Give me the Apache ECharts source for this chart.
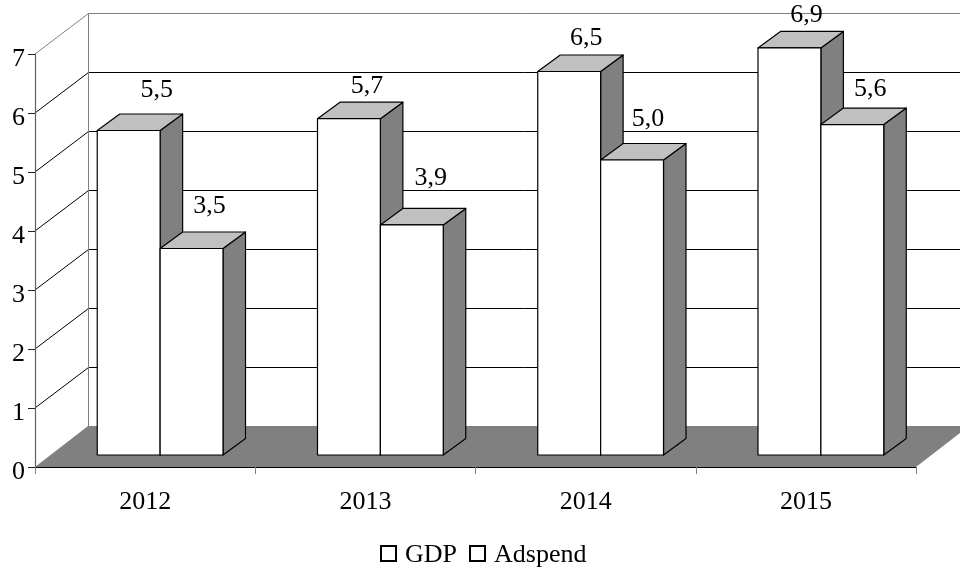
<!DOCTYPE html>
<html lang="en">
<head>
    <meta charset="UTF-8">
    <title>GDP and Adspend</title>
    <script type="text/javascript" src="https://cdn.jsdelivr.net/npm/echarts@6/dist/echarts.min.js"></script>
    <style>
        html, body { margin: 0; padding: 0; background: #fff; }
    </style>
</head>
<body>
<div id="chart" style="width:960px;height:569px;"></div>

<script type="text/javascript">
var years = ['2012', '2013', '2014', '2015'];
var gdp = [5.5, 5.7, 6.5, 6.9];
var adspend = [3.5, 3.9, 5.0, 5.6];
var wallTicks = [0, 1, 2, 3, 4, 5, 6, 7];

// how far each value label sits from its bar's top front edge, in px
var gdpLabelShift = [[28, -40.5], [18, -32.5], [17, -33.5], [17, -32.5]];
var adspendLabelShift = [[18, -42.5], [19, -46.5], [16, -40.5], [18, -35.5]];

var FONT = '"Liberation Serif", "Times New Roman", serif';
var FONT_SIZE = 26;
var WALL_DX = 53, WALL_DY = -41;      // depth of the floor and side wall
var BAR_DX = 15, BAR_DY = -12;        // bars stand this far back from the axis
var BAR_DEPTH_X = 22.5, BAR_DEPTH_Y = -16.5;
var BAR_SHARE = 0.2855;               // bar width as a share of the category band

var myChart = echarts.init(document.getElementById('chart'));

function line(x1, y1, x2, y2, color) {
    return {
        type: 'line',
        shape: {x1: x1, y1: y1, x2: x2, y2: y2},
        style: {stroke: color, lineWidth: 1, fill: null}
    };
}

function poly(points, fill, stroke) {
    return {
        type: 'polygon',
        shape: {points: points},
        style: {fill: fill, stroke: stroke, lineWidth: 1.2, lineJoin: 'round'}
    };
}

function renderWall(params, api) {
    var v = api.value(0);
    var left = api.coord([0, v]);
    var band = api.size([1, 0])[0];
    var x0 = left[0] - band / 2;
    var xEnd = x0 + band * years.length;
    var y = left[1];
    var backX = x0 + WALL_DX + 0.5;
    var backY = y + WALL_DY + 0.5;     // keep the thin wall lines on whole pixels
    var color = v === 7 ? '#808080' : '#000';
    var kids = [];

    if (v === 0) {
        kids.push({
            type: 'polygon',
            shape: {points: [[x0, y], [x0 + WALL_DX, y + WALL_DY], [xEnd + WALL_DX, y + WALL_DY], [xEnd, y]]},
            style: {fill: '#808080', stroke: null}
        });
    } else {
        kids.push(line(x0, y, backX, backY, color));
        kids.push(line(backX, backY, xEnd + WALL_DX, backY, color));
    }
    if (v === 7) {
        var bottom = api.coord([0, 0])[1];
        kids.push(line(backX, backY, backX, bottom + WALL_DY, '#808080'));
    }
    return {type: 'group', children: kids};
}

// side: 0 is the left bar of the pair, 1 the right one
function renderBar(side, shifts) {
    return function (params, api) {
        var i = api.value(0);
        var v = api.value(1);
        var top = api.coord([i, v]);
        var base = api.coord([i, 0]);
        var w = api.size([1, 0])[0] * BAR_SHARE;
        var x1 = top[0] + BAR_DX + (side - 1) * w;
        var x2 = x1 + w;
        var yT = top[1] + BAR_DY;
        var yB = base[1] + BAR_DY;
        var dx = BAR_DEPTH_X, dy = BAR_DEPTH_Y;
        return {
            type: 'group',
            children: [
                poly([[x2, yT], [x2 + dx, yT + dy], [x2 + dx, yB + dy], [x2, yB]], '#808080', '#000'),
                poly([[x1, yT], [x1 + dx, yT + dy], [x2 + dx, yT + dy], [x2, yT]], '#c0c0c0', '#000'),
                poly([[x1, yT], [x2, yT], [x2, yB], [x1, yB]], '#fff', '#000'),
                {
                    type: 'text',
                    style: {
                        x: (x1 + x2) / 2 + shifts[i][0],
                        y: yT + shifts[i][1],
                        text: v.toFixed(1).replace('.', ','),
                        font: FONT_SIZE + 'px ' + FONT,
                        fill: '#000',
                        align: 'center',
                        verticalAlign: 'middle'
                    }
                }
            ]
        };
    };
}

function pairs(values) {
    return values.map(function (v, i) { return [i, v]; });
}

var option = {
    animation: false,
    textStyle: {fontFamily: FONT},
    grid: {left: 35, right: 44, top: 54, bottom: 102},
    legend: {
        data: ['GDP', 'Adspend'],
        left: 375,
        top: 534,
        icon: 'rect',
        itemWidth: 15,
        itemHeight: 15,
        itemGap: 12,
        // thin empty first line pushes the name down next to its square
        formatter: '{s| }\n{t|{name}}',
        textStyle: {
            rich: {
                s: {fontSize: 1, lineHeight: 3, height: 3},
                t: {fontFamily: FONT, fontSize: FONT_SIZE, color: '#000', padding: [0, 0, 0, 4]}
            }
        }
    },
    xAxis: {
        type: 'category',
        data: years,
        z: 10,
        axisLine: {lineStyle: {color: '#000', width: 1}},
        axisTick: {show: true, length: 7, lineStyle: {color: '#808080'}},
        axisLabel: {fontFamily: FONT, fontSize: FONT_SIZE, color: '#000', margin: 22}
    },
    yAxis: {
        type: 'value',
        min: 0,
        max: 7,
        interval: 1,
        z: 10,
        splitLine: {show: false},
        axisLine: {show: true, lineStyle: {color: '#606060', width: 1.2}},
        axisTick: {show: true, length: 7, lineStyle: {color: '#222'}},
        // top aligned with a short line box: the digits sit a little below their tick
        axisLabel: {fontFamily: FONT, fontSize: FONT_SIZE, color: '#000', margin: 10, verticalAlign: 'top', lineHeight: 10}
    },
    series: [
        {
            name: 'wall',
            type: 'custom',
            renderItem: renderWall,
            data: wallTicks.map(function (v) { return [v]; }),
            encode: {y: 0},
            silent: true,
            z: 1
        },
        {
            name: 'GDP',
            type: 'custom',
            renderItem: renderBar(0, gdpLabelShift),
            data: pairs(gdp),
            encode: {x: 0, y: 1},
            itemStyle: {color: '#fff', borderColor: '#000', borderWidth: 1},
            z: 2
        },
        {
            name: 'Adspend',
            type: 'custom',
            renderItem: renderBar(1, adspendLabelShift),
            data: pairs(adspend),
            encode: {x: 0, y: 1},
            itemStyle: {color: '#fff', borderColor: '#000', borderWidth: 1},
            z: 3
        }
    ]
};

option && myChart.setOption(option);
</script>
</body>
</html>
